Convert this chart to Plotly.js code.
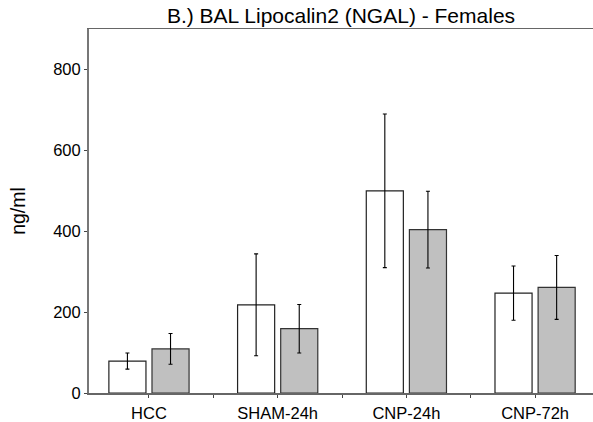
<!DOCTYPE html>
<html>
<head>
<meta charset="utf-8">
<script src="https://cdn.plot.ly/plotly-3.0.1.min.js"></script>
<style>html,body{margin:0;padding:0;background:#fff;}#chart{width:593px;height:422px;}</style>
</head>
<body>
<div id="chart"></div>
<script>
const categories = ["HCC", "SHAM-24h", "CNP-24h", "CNP-72h"];
const whiteValues = [79, 218, 500, 247];
const whiteErrors = [20, 126, 190, 67];
const grayValues = [109, 159, 404, 261];
const grayErrors = [38, 60, 95, 79];
const yTickValues = [0, 200, 400, 600, 800];

const xPos = categories.map((c, i) => i);
const tickVals = [];
const tickText = [];
categories.forEach((c, i) => {
  tickVals.push(i); tickText.push(c);
  if (i < categories.length - 1) { tickVals.push(i + 0.5); tickText.push(""); }
});

const errStyle = {type: "data", visible: true, color: "#000", thickness: 1.1, width: 2};

const traces = [
  {
    type: "bar", x: xPos, y: whiteValues,
    marker: {color: "#ffffff", line: {color: "#222", width: 1.2}},
    error_y: Object.assign({array: whiteErrors}, errStyle),
    hoverinfo: "skip"
  },
  {
    type: "bar", x: xPos, y: grayValues,
    marker: {color: "#c0c0c0", line: {color: "#333", width: 1.2}},
    error_y: Object.assign({array: grayErrors}, errStyle),
    hoverinfo: "skip"
  }
];

const layout = {
  width: 593, height: 422,
  margin: {l: 89, r: 0, t: 29, b: 29},
  paper_bgcolor: "#fff", plot_bgcolor: "#fff",
  showlegend: false,
  barmode: "group", bargap: 0.33, bargroupgap: 0.14,
  font: {family: "Liberation Sans, Arial, sans-serif", color: "#000", size: 16.5},
  title: {text: "B.) BAL Lipocalin2 (NGAL) - Females", font: {size: 21, color: "#000"},
          x: 0.575, xanchor: "center", xref: "container", yref: "container", y: 0.963, yanchor: "middle"},
  xaxis: {
    range: [-0.466, 3.45], tickmode: "array", tickvals: tickVals, ticktext: tickText,
    showline: true, linecolor: "#666", linewidth: 1.5, mirror: true,
    ticks: "outside", ticklen: 3, tickcolor: "#444", tickwidth: 1,
    ticklabelstandoff: 2,
    showgrid: false, zeroline: false, fixedrange: true,
    tickfont: {size: 16.5}
  },
  yaxis: {
    range: [0, 900], tickmode: "array", tickvals: yTickValues,
    showline: true, linecolor: "#777", linewidth: 2,
    ticks: "outside", ticklen: 3, tickcolor: "#444", tickwidth: 1,
    showgrid: false, zeroline: false, fixedrange: true,
    title: {text: "ng/ml", font: {size: 19.5}, standoff: 22},
    tickfont: {size: 16.5}
  }
};

Plotly.newPlot("chart", traces, layout, {displayModeBar: false, staticPlot: true});
</script>
</body>
</html>
